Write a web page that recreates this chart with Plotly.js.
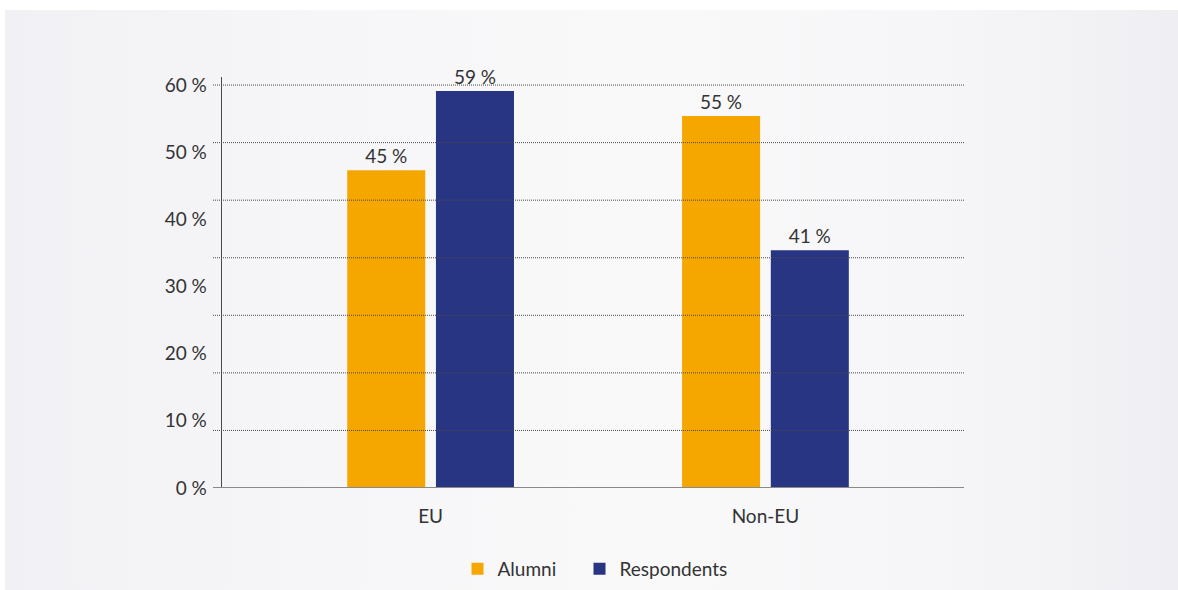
<!DOCTYPE html>
<html>
<head>
<meta charset="utf-8">
<script src="https://cdn.plot.ly/plotly-3.0.1.min.js"></script>
<style>
  html, body { margin: 0; padding: 0; background: #ffffff; }
  #card { position: absolute; left: 5px; top: 10px; width: 1173px; height: 580px;
          background: linear-gradient(to right, #f1f1f5 0%, #f6f6f8 25%, #f9f9fa 55%, #f6f6f8 80%, #efeff3 100%); }
  #chart { position: absolute; left: 0; top: 0; width: 1178px; height: 590px; }
</style>
</head>
<body>
<div id="card"></div>
<div id="chart"></div>
<script>
// Data
const categories = ["EU", "Non-EU"];
const seriesNames = ["Alumni", "Respondents"];
// Bar heights as drawn in the reference (percent)
const alumniValues = [47.3, 55.4];
const respondentsValues = [59.1, 35.4];
// Value labels as printed above the bars
const alumniLabels = ["45\u202F%", "55\u202F%"];
const respondentsLabels = ["59\u202F%", "41\u202F%"];
// Y axis tick labels
const yTickValues = [0, 10, 20, 30, 40, 50, 60];
const yTickLabels = ["0\u202F%", "10\u202F%", "20\u202F%", "30\u202F%", "40\u202F%", "50\u202F%", "60\u202F%"];
// Horizontal dotted guide lines: 7 equal divisions of 0–60
const gridDivisions = 7;
const gridTop = 60;

const FONT = "Lato, 'Open Sans', sans-serif";
const TEXT = "#333333";
const FS = 19;

const traces = [
  {
    type: "bar", name: seriesNames[0], x: categories, y: alumniValues,
    text: alumniLabels, textposition: "outside", cliponaxis: false,
    textfont: {family: FONT, size: FS, color: TEXT},
    marker: {color: "#f5a700"}, width: 0.233, offset: -0.249,
    legend: "legend", hoverinfo: "skip"
  },
  {
    type: "bar", name: seriesNames[1], x: categories, y: respondentsValues,
    text: respondentsLabels, textposition: "outside", cliponaxis: false,
    textfont: {family: FONT, size: FS, color: TEXT},
    marker: {color: "#283583"}, width: 0.233, offset: 0.016,
    legend: "legend2", hoverinfo: "skip"
  }
];

const plotW = 1178 - 222 - 214;
const extL = -9 / plotW;
const shapes = [];
for (let i = 1; i <= gridDivisions; i++) {
  const yv = gridTop * i / gridDivisions;
  shapes.push({type: "line", xref: "paper", yref: "y", x0: extL, x1: 1, y0: yv, y1: yv,
    line: {color: "#4a4a4a", width: 1, dash: "1px,1px"}, layer: "above"});
}
shapes.push({type: "line", xref: "paper", yref: "y", x0: extL, x1: 1, y0: 0, y1: 0,
  line: {color: "#8a8a8a", width: 2}, layer: "above"});

const legendBase = {orientation: "h", xref: "container", yref: "container",
  xanchor: "left", y: 1 - 569 / 590, yanchor: "middle",
  font: {family: FONT, size: FS, color: TEXT}, bgcolor: "rgba(0,0,0,0)"};

const layout = {
  width: 1178, height: 590,
  margin: {l: 222, r: 214, t: 77, b: 102, pad: 0, autoexpand: false},
  paper_bgcolor: "rgba(0,0,0,0)",
  plot_bgcolor: "rgba(0,0,0,0)",
  font: {family: FONT, size: FS, color: TEXT},
  barmode: "overlay",
  showlegend: true,
  legend: Object.assign({}, legendBase, {x: 457.5 / 1178}),
  legend2: Object.assign({}, legendBase, {x: 579.5 / 1178}),
  xaxis: {type: "category", range: [-0.623, 1.593], showgrid: false, zeroline: false,
          showline: false, ticks: "outside", ticklen: 11, tickcolor: "rgba(0,0,0,0)",
          tickfont: {family: FONT, size: FS, color: TEXT}, fixedrange: true, automargin: false},
  yaxis: {range: [0, 61.2], tickvals: yTickValues, ticktext: yTickLabels,
          showgrid: false, zeroline: false, showline: true, linecolor: "#4a4a4a", linewidth: 1.5,
          ticks: "", ticklabelstandoff: 10,
          tickfont: {family: FONT, size: FS, color: TEXT}, fixedrange: true, automargin: false},
  shapes: shapes
};

Plotly.newPlot("chart", traces, layout, {displayModeBar: false, staticPlot: true});
</script>
</body>
</html>
